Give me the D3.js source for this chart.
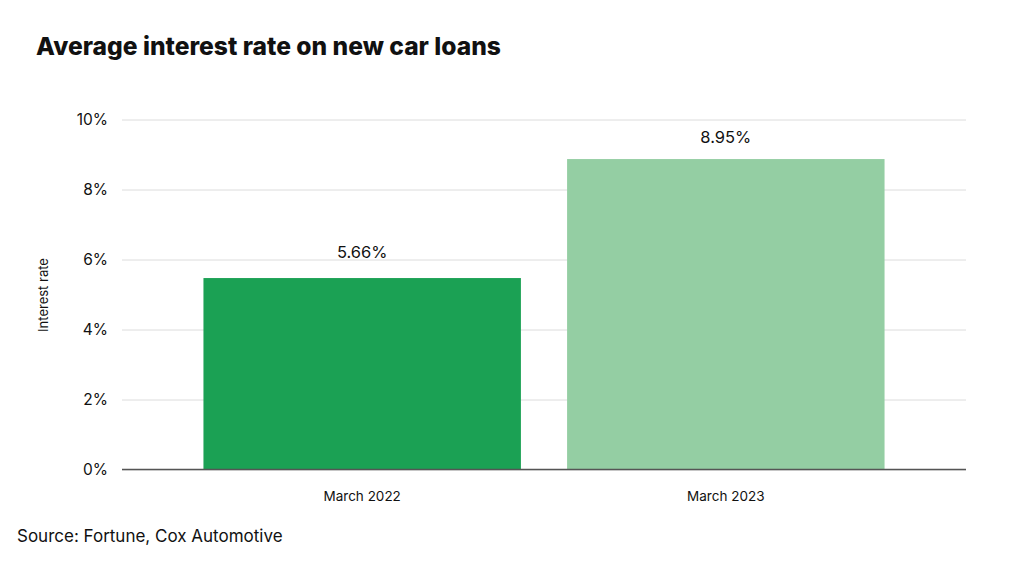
<!DOCTYPE html>
<html>
<head>
<meta charset="utf-8">
<script src="https://cdn.jsdelivr.net/npm/d3@7"></script>
<style>
  body { margin: 0; background: #fff; }
  svg { font-family: Inter, "Liberation Sans", sans-serif; }
  .grid line { stroke: #dcdcdc; stroke-width: 1; }
  .grid path { display: none; }
  .yaxis path, .yaxis line { display: none; }
  .xaxis path, .xaxis line { display: none; }
</style>
</head>
<body>
<div id="chart"></div>
<script>
const categories = ['March 2022', 'March 2023'];
// bar heights as drawn in the picture
const barValues = [5.47, 8.87];
// printed labels (and where they sit)
const labelValues = [5.66, 8.95];
const barColors = ['#1ba154', '#94cea3'];
const yTicks = [0, 2, 4, 6, 8, 10];

const width = 1024;
const height = 565;
const plotLeft = 122;
const plotRight = 966;
const plotTop = 119.5;
const plotBottom = 469.5;

const svg = d3.select('#chart')
  .append('svg')
  .attr('width', width)
  .attr('height', height);

const xScale = d3.scaleBand()
  .domain(categories)
  .range([plotLeft, plotRight])
  .paddingInner(0.127)
  .paddingOuter(0.224);

const yScale = d3.scaleLinear()
  .domain([0, 10])
  .range([plotBottom, plotTop]);

// title
svg.append('text')
  .attr('x', 36)
  .attr('y', 55)
  .attr('font-size', 24.6)
  .attr('font-weight', 800)
  .attr('fill', '#111')
  .text('Average interest rate on new car loans');

// gridlines
svg.append('g')
  .attr('class', 'grid')
  .attr('transform', 'translate(' + plotLeft + ',0)')
  .call(d3.axisLeft(yScale).tickValues(yTicks).tickSize(-(plotRight - plotLeft)).tickFormat(''));

// y axis labels
svg.append('g')
  .attr('class', 'yaxis')
  .attr('transform', 'translate(' + plotLeft + ',0)')
  .call(d3.axisLeft(yScale).tickValues(yTicks).tickSize(0).tickPadding(14).tickFormat(d => d + '%'))
  .selectAll('text')
  .attr('font-size', 15.5)
  .attr('fill', '#111')
  .attr('font-family', 'Inter, "Liberation Sans", sans-serif');

// bars
svg.selectAll('rect.bar')
  .data(categories)
  .enter()
  .append('rect')
  .attr('class', 'bar')
  .attr('x', d => xScale(d))
  .attr('width', xScale.bandwidth())
  .attr('y', (d, i) => yScale(barValues[i]))
  .attr('height', (d, i) => yScale(0) - yScale(barValues[i]))
  .attr('fill', (d, i) => barColors[i]);

// value labels
svg.selectAll('text.bar__label')
  .data(categories)
  .enter()
  .append('text')
  .attr('class', 'bar__label')
  .attr('x', d => xScale(d) + xScale.bandwidth() / 2)
  .attr('y', (d, i) => yScale(labelValues[i]) - 13.5)
  .attr('text-anchor', 'middle')
  .attr('font-size', 16.5)
  .attr('fill', '#111')
  .text((d, i) => labelValues[i].toFixed(2) + '%');

// baseline
svg.append('line')
  .attr('x1', plotLeft)
  .attr('x2', plotRight)
  .attr('y1', yScale(0))
  .attr('y2', yScale(0))
  .attr('stroke', '#555')
  .attr('stroke-width', 1.5);

// x axis labels
svg.append('g')
  .attr('class', 'xaxis')
  .attr('transform', 'translate(0,' + plotBottom + ')')
  .call(d3.axisBottom(xScale).tickSize(0).tickPadding(22))
  .selectAll('text')
  .attr('font-size', 13.5)
  .attr('fill', '#111')
  .attr('font-family', 'Inter, "Liberation Sans", sans-serif');

// y axis title
svg.append('text')
  .attr('transform', 'translate(48,' + 295 + ') rotate(-90)')
  .attr('text-anchor', 'middle')
  .attr('font-size', 13)
  .attr('fill', '#111')
  .text('Interest rate');

// source
svg.append('text')
  .attr('x', 17)
  .attr('y', 542)
  .attr('font-size', 17)
  .attr('fill', '#111')
  .text('Source: Fortune, Cox Automotive');
</script>
</body>
</html>
